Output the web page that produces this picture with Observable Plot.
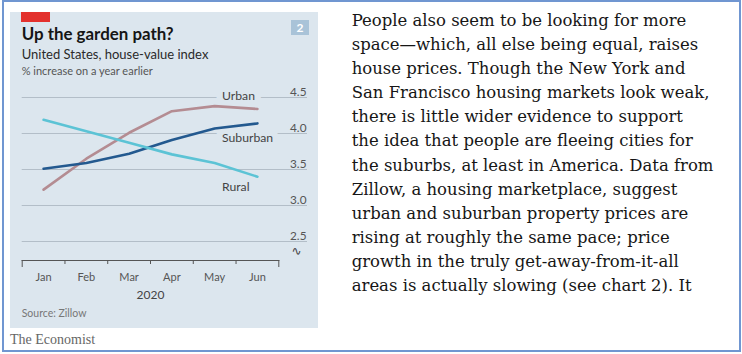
<!DOCTYPE html>
<html>
<head>
<meta charset="utf-8">
<script src="https://cdn.jsdelivr.net/npm/d3@7"></script>
<script src="https://cdn.jsdelivr.net/npm/@observablehq/plot@0.6"></script>
<style>
  html, body { margin: 0; padding: 0; background: #fff; }
  #page { position: relative; width: 742px; height: 354px; overflow: hidden; background: #fff; }
  .abs { position: absolute; white-space: nowrap; }
  #border { left: 2px; top: 0; width: 739px; height: 352px; box-sizing: border-box; border: 2px solid #7096d1; }
  #panel { left: 10px; top: 12px; width: 308px; height: 316px; background: #dce6ee; }
  #redbar { left: 21px; top: 12px; width: 29px; height: 10px; background: #e3312d; }
  #num { left: 291px; top: 20px; width: 18px; height: 15px; background: #a9c3d8; color: #fff; font: bold 12px Lato, sans-serif; text-align: center; line-height: 15px; }
  .sans { font-family: Lato, "Open Sans", sans-serif; }
  #title { left: 21.7px; top: 24.2px; font-size: 16.9px; font-weight: bold; line-height: 1.2; color: #151515; }
  #subtitle { left: 21.7px; top: 47.3px; font-size: 13px; line-height: 1.2; color: #2a2a2a; }
  #unit { left: 21.7px; top: 64.1px; font-size: 11px; line-height: 1.2; color: #555; }
  #source { left: 21.7px; top: 307.1px; font-size: 10.5px; line-height: 1.2; color: #777; }
  #brand { left: 10px; top: 331.5px; font-family: "Liberation Serif", serif; font-size: 14px; line-height: 1.107; color: #666; }
  #chart { left: 10px; top: 80px; }
  #body { left: 351.7px; top: 9.1px; font-family: "DejaVu Serif", serif; font-size: 16px; line-height: 24.1px; color: #161616; }
  #body div { white-space: pre; }
</style>
</head>
<body>
<div id="page">
  <div class="abs" id="panel"></div>
  <div class="abs" id="redbar"></div>
  <div class="abs" id="num">2</div>
  <div class="abs sans" id="title">Up the garden path?</div>
  <div class="abs sans" id="subtitle">United States, house-value index</div>
  <div class="abs sans" id="unit">% increase on a year earlier</div>
  <div class="abs" id="chart"></div>
  <div class="abs sans" id="source">Source: Zillow</div>
  <div class="abs" id="brand">The Economist</div>
  <div class="abs" id="body"></div>
  <div class="abs" id="border"></div>
</div>
<script>
// ---- data ----
const months = ["Jan", "Feb", "Mar", "Apr", "May", "Jun"];
const urban = [3.22, 3.65, 4.01, 4.31, 4.38, 4.34];
const suburban = [3.51, 3.59, 3.72, 3.91, 4.07, 4.14];
const rural = [4.19, 4.03, 3.87, 3.71, 3.59, 3.40];
const seriesNames = ["Urban", "Suburban", "Rural"];
const seriesColors = ["#b48c92", "#23598f", "#5cc3d5"];
const yTicks = [2.5, 3.0, 3.5, 4.0, 4.5];
const yearLabel = "2020";
// label anchors (data space): month index and value
const labelMonth = [4, 4, 4];
const labelValue = [4.52, 3.94, 3.26];
const bodyLines = [
  "People also seem to be looking for more",
  "space\u2014which, all else being equal, raises",
  "house prices. Though the New York and",
  "San Francisco housing markets look weak,",
  "there is little wider evidence to support",
  "the idea that people are fleeing cities for",
  "the suburbs, at least in America. Data from",
  "Zillow, a housing marketplace, suggest",
  "urban and suburban property prices are",
  "rising at roughly the same pace; price",
  "growth in the truly get-away-from-it-all",
  "areas is actually slowing (see chart 2). It"
];

// ---- build table ----
const values = [urban, suburban, rural];
const rows = [];
seriesNames.forEach((s, k) => values[k].forEach((v, i) => rows.push({series: s, m: i, v})));
const labels = seriesNames.map((s, k) => ({series: s, m: labelMonth[k], v: labelValue[k]}));
const tickBounds = d3.range(-0.5, months.length, 1);
const innerTicks = tickBounds.slice(1, -1);
const endTicks = [tickBounds[0], tickBounds[tickBounds.length - 1]];
const panelBg = "#dce6ee";

const chart = Plot.plot({
  width: 308,
  height: 225,
  marginTop: 17,
  marginBottom: 45,
  marginLeft: 11.7,
  marginRight: 39.7,
  x: {domain: [-0.5, months.length - 0.5], label: null, axis: null},
  y: {domain: [2.5, 4.5], insetBottom: 19, label: null, axis: null},
  color: {domain: seriesNames, range: seriesColors},
  style: {fontFamily: "Lato, 'Open Sans', sans-serif", fontSize: "11px", color: "#555", background: "transparent", overflow: "visible"},
  marks: [
    Plot.ruleY(yTicks, {stroke: "#b3bec8", strokeWidth: 1, insetRight: -28.7}),
    Plot.text(yTicks, {y: d => d, frameAnchor: "right", text: d => d.toFixed(1), textAnchor: "end", lineAnchor: "bottom", dx: 27.7, dy: -1.7, fill: "#555", fontSize: 11.8}),
    Plot.text(labels, {x: "m", y: "v", text: "series", textAnchor: "start", dx: 7.4, fill: "#444", fontSize: 12.2, stroke: panelBg, strokeWidth: 13, paintOrder: "stroke"}),
    Plot.line(rows, {x: "m", y: "v", z: "series", stroke: "series", strokeWidth: 2.6, curve: "linear"}),
    Plot.frame({anchor: "bottom", stroke: "#555", strokeWidth: 1.2}),
    Plot.axisX(innerTicks, {tickSize: 4, tickFormat: () => "", stroke: "#555", label: null}),
    Plot.axisX(endTicks, {tickSize: 7, tickFormat: () => "", stroke: "#555", label: null}),
    Plot.text(months, {x: (d, i) => i, frameAnchor: "bottom", text: d => d, lineAnchor: "bottom", dy: 20, fill: "#555", fontSize: 11}),
    Plot.text([yearLabel], {frameAnchor: "bottom", text: d => d, lineAnchor: "bottom", dy: 38, fill: "#444", fontSize: 12}),
    Plot.text(["\u223F"], {frameAnchor: "bottom-right", text: d => d, lineAnchor: "bottom", dx: 22.7, dy: -6, fill: "#444", fontSize: 12, fontFamily: "DejaVu Sans"})
  ]
});
document.getElementById("chart").appendChild(chart);

// ---- body text ----
const body = document.getElementById("body");
bodyLines.forEach(t => { const d = document.createElement("div"); d.textContent = t; body.appendChild(d); });
const targetW = 362;
let maxW = d3.max(Array.from(body.children), d => d.getBoundingClientRect().width);
const f = 16 * targetW / maxW;
body.style.fontSize = f + "px";
body.style.top = (26.7 - (12.05 + 0.346 * f)) + "px";
</script>
</body>
</html>
